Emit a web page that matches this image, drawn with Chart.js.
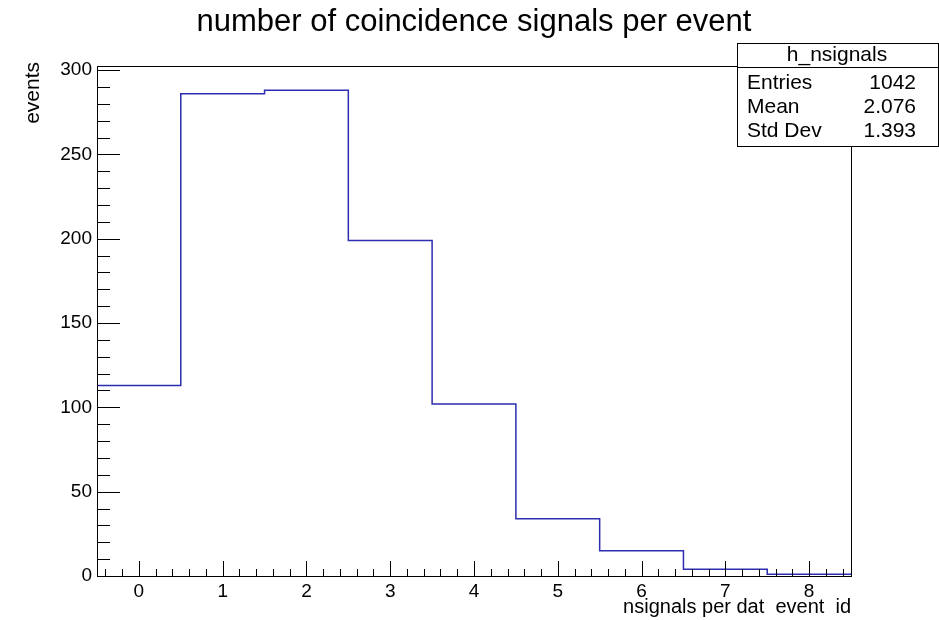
<!DOCTYPE html>
<html>
<head>
<meta charset="utf-8">
<script src="https://cdn.jsdelivr.net/npm/chart.js@4.4.1/dist/chart.umd.min.js"></script>
<style>
  html, body { margin: 0; padding: 0; background: #fff; }
  #wrap { width: 939px; height: 620px; position: relative; }
</style>
</head>
<body>
<div id="wrap"><canvas id="c" width="939" height="620"></canvas></div>
<script>
// ---- data ----
const binCenters = [0, 1, 2, 3, 4, 5, 6, 7, 8];
const counts = [113, 286, 288, 199, 102, 34, 15, 4, 1];
const xTickLabels = ["0", "1", "2", "3", "4", "5", "6", "7", "8"];
const yTickValues = [0, 50, 100, 150, 200, 250, 300];
const chartTitle = "number of coincidence signals per event";
const xTitle = "nsignals per dat  event  id";
const yTitle = "events";
const statsName = "h_nsignals";
const statsLabels = ["Entries", "Mean", "Std Dev"];
const statsValues = ["1042", "2.076", "1.393"];

// histogram edges built from bin centers
const binWidth = 1;
const stepPoints = binCenters.map((c, i) => ({ x: c - binWidth / 2, y: counts[i] }));
stepPoints.push({ x: binCenters[binCenters.length - 1] + binWidth / 2, y: counts[counts.length - 1] });
const xMin = binCenters[0] - binWidth / 2;
const xMax = binCenters[binCenters.length - 1] + binWidth / 2;
const yMax = Math.max(...counts) * 1.05;

const FONT = "'Liberation Sans', Arial, Helvetica, sans-serif";

const rootPlugin = {
  id: 'rootStyle',
  afterDraw(chart) {
    const ctx = chart.ctx;
    const a = chart.chartArea;
    const xs = chart.scales.x, ys = chart.scales.y;
    ctx.save();
    // frame
    ctx.strokeStyle = '#000';
    ctx.lineWidth = 1;
    ctx.strokeRect(Math.round(a.left) + 0.5, Math.round(a.top) + 0.5, Math.round(a.right - a.left), Math.round(a.bottom - a.top));
    // x ticks (inside, from bottom)
    ctx.beginPath();
    for (let v = Math.ceil(xMin / 0.2) * 0.2; v <= xMax + 1e-9; v += 0.2) {
      const vv = Math.round(v * 10) / 10;
      const major = Math.abs(vv - Math.round(vv)) < 1e-6;
      const px = Math.round(xs.getPixelForValue(vv)) + 0.5;
      ctx.moveTo(px, a.bottom);
      ctx.lineTo(px, a.bottom - (major ? 15 : 7));
    }
    // y ticks (inside, from left)
    for (let v = 0; v <= yMax; v += 10) {
      const major = v % 50 === 0;
      const py = Math.round(ys.getPixelForValue(v)) + 0.5;
      ctx.moveTo(a.left, py);
      ctx.lineTo(a.left + (major ? 23 : 13), py);
    }
    ctx.stroke();

    // title
    ctx.fillStyle = '#000';
    ctx.font = '31px ' + FONT;
    ctx.textAlign = 'center';
    ctx.textBaseline = 'middle';
    ctx.fillText(chartTitle, 474, 22);

    // x title
    ctx.font = '20px ' + FONT;
    ctx.textAlign = 'right';
    ctx.textBaseline = 'middle';
    ctx.fillText(xTitle, a.right, 607);

    // y title
    ctx.save();
    ctx.font = '21px ' + FONT;
    ctx.translate(33, 62);
    ctx.rotate(-Math.PI / 2);
    ctx.textAlign = 'right';
    ctx.textBaseline = 'middle';
    ctx.fillText(yTitle, 0, 0);
    ctx.restore();

    // stats box
    const bx = 737.5, by = 43.5, bw = 201, bh = 103, sep = 67.5;
    ctx.fillStyle = '#fff';
    ctx.fillRect(bx, by, bw, bh);
    ctx.strokeStyle = '#000';
    ctx.strokeRect(bx, by, bw, bh);
    ctx.beginPath();
    ctx.moveTo(bx, sep); ctx.lineTo(bx + bw, sep);
    ctx.stroke();
    ctx.fillStyle = '#000';
    ctx.font = '21px ' + FONT;
    ctx.textAlign = 'center';
    ctx.fillText(statsName, 837, 55);
    for (let i = 0; i < statsLabels.length; i++) {
      const ty = 83 + i * 24;
      ctx.textAlign = 'left';
      ctx.fillText(statsLabels[i], 747, ty);
      ctx.textAlign = 'right';
      ctx.fillText(statsValues[i], 916, ty);
    }
    ctx.restore();
  }
};

new Chart(document.getElementById('c'), {
  type: 'line',
  data: {
    datasets: [{
      data: stepPoints,
      stepped: 'before',
      borderColor: 'rgb(45,45,175)',
      borderWidth: 1.5,
      pointRadius: 0,
      fill: false,
      clip: false
    }]
  },
  options: {
    responsive: false,
    animation: false,
    devicePixelRatio: 1,
    layout: { padding: { top: 66, right: 88, bottom: 0, left: 0 } },
    plugins: { legend: { display: false }, tooltip: { enabled: false }, title: { display: false } },
    scales: {
      x: {
        type: 'linear',
        min: xMin,
        max: xMax,
        grid: { display: false, drawTicks: false },
        border: { display: false },
        afterBuildTicks(scale) {
          scale.ticks = binCenters.map(v => ({ value: v }));
        },
        afterFit(scale) { scale.height = 44; },
        ticks: {
          color: '#000',
          font: { family: FONT, size: 19 },
          padding: 4,
          maxRotation: 0,
          autoSkip: false,
          callback: (v) => xTickLabels[binCenters.indexOf(v)]
        }
      },
      y: {
        type: 'linear',
        min: 0,
        max: yMax,
        grid: { display: false, drawTicks: false },
        border: { display: false },
        afterBuildTicks(scale) {
          scale.ticks = yTickValues.map(v => ({ value: v }));
        },
        afterFit(scale) { scale.width = 97; },
        ticks: {
          color: '#000',
          font: { family: FONT, size: 19 },
          padding: 5,
          autoSkip: false,
          callback: (v) => String(v)
        }
      }
    }
  },
  plugins: [rootPlugin]
});
</script>
</body>
</html>
